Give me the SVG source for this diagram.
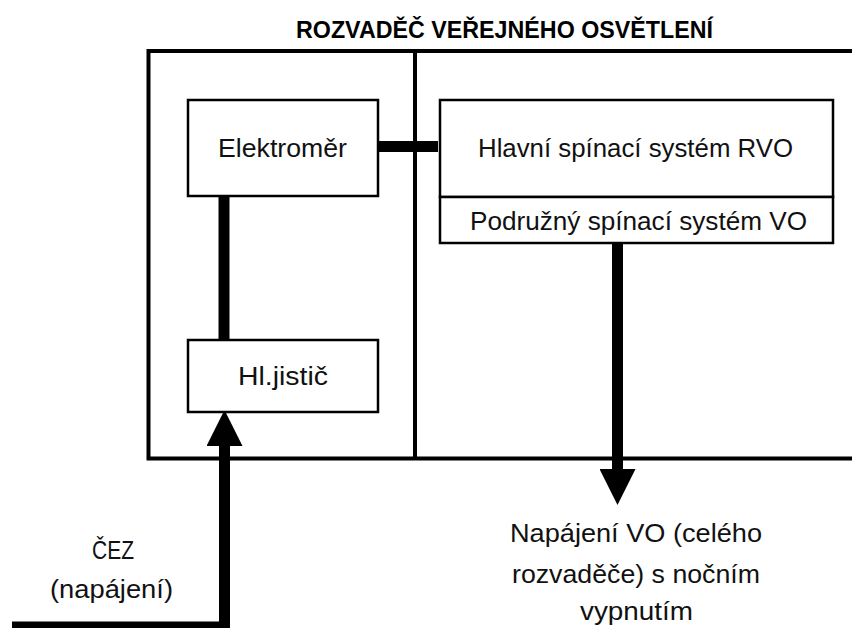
<svg xmlns="http://www.w3.org/2000/svg" width="852" height="628" viewBox="0 0 852 628">
<style>
.box{fill:#fff;stroke:#000;stroke-width:2.5}
.frame{fill:none;stroke:#000;stroke-width:4}
.wire{fill:none;stroke:#000;stroke-width:11}
.t{font-family:"Liberation Sans",Arial,sans-serif;font-size:25px;fill:#111;text-anchor:middle}
.title{font-family:"Liberation Sans",Arial,sans-serif;font-size:23.5px;font-weight:bold;fill:#000;text-anchor:middle}
</style>
<defs>
<marker id="ah" viewBox="0 0 36 36" markerWidth="36" markerHeight="36" markerUnits="userSpaceOnUse" refX="0" refY="18" orient="auto">
<path d="M0,0 L36,18 L0,36 z" fill="#000"/>
</marker>
</defs>
<rect width="852" height="628" fill="#fff"/>
<g id="rozvadec">
<text class="title" x="504.5" y="38" textLength="417" lengthAdjust="spacingAndGlyphs">ROZVADĚČ VEŘEJNÉHO OSVĚTLENÍ</text>
<path class="frame" d="M856 51 H148.5 V458.5 H856"/>
<line class="frame" x1="415" y1="51" x2="415" y2="458.5"/>
</g>
<g id="connectors">
<line class="wire" x1="376" y1="146.5" x2="438" y2="146.5"/>
<line class="wire" x1="224" y1="196" x2="224" y2="340"/>
<path class="wire" d="M12 627 H224.5 V446" marker-end="url(#ah)"/>
<line class="wire" x1="617.5" y1="243" x2="617.5" y2="469" marker-end="url(#ah)"/>
</g>
<g id="elektromer">
<rect class="box" x="188" y="100" width="190" height="96"/>
<text class="t" x="282.5" y="157" textLength="129" lengthAdjust="spacingAndGlyphs">Elektroměr</text>
</g>
<g id="hlavni">
<rect class="box" x="440" y="100" width="393" height="97"/>
<text class="t" x="635.5" y="157" textLength="315" lengthAdjust="spacingAndGlyphs">Hlavní spínací systém RVO</text>
</g>
<g id="podruzny">
<rect class="box" x="440" y="197" width="393" height="46"/>
<text class="t" x="638.5" y="230" textLength="337" lengthAdjust="spacingAndGlyphs">Podružný spínací systém VO</text>
</g>
<g id="jistic">
<rect class="box" x="188" y="340" width="190" height="72"/>
<text class="t" x="283" y="385" textLength="90" lengthAdjust="spacingAndGlyphs">Hl.jistič</text>
</g>
<g id="cez">
<text class="t" x="113" y="559" textLength="42" lengthAdjust="spacingAndGlyphs">ČEZ</text>
<text class="t" x="111.5" y="598" textLength="123" lengthAdjust="spacingAndGlyphs">(napájení)</text>
</g>
<g id="napajeni">
<text class="t" x="636" y="542" textLength="252" lengthAdjust="spacingAndGlyphs">Napájení VO (celého</text>
<text class="t" x="636" y="583" textLength="248" lengthAdjust="spacingAndGlyphs">rozvaděče) s nočním</text>
<text class="t" x="636.5" y="620" textLength="113" lengthAdjust="spacingAndGlyphs">vypnutím</text>
</g>
</svg>
